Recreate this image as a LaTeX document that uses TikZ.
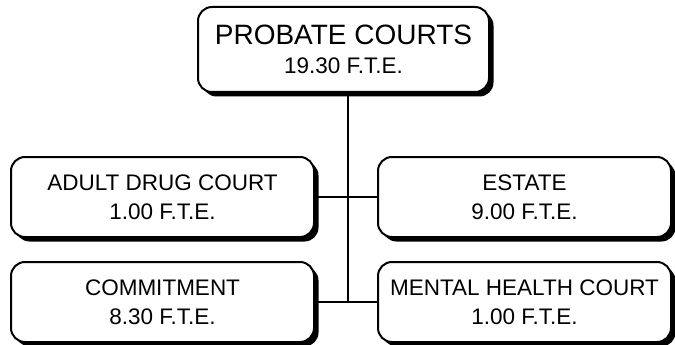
\documentclass[tikz,border=0pt]{standalone}
\usepackage{fontspec}
\setmainfont{Liberation Sans}
\usetikzlibrary{shadows}

\begin{document}
\begin{tikzpicture}[x=1pt,y=-1pt,
  unitbox/.style={draw=black,line width=2pt,fill=white,rounded corners=14pt,
    align=center,inner sep=0pt,
    drop shadow={shadow xshift=4.5pt,shadow yshift=-4.5pt,fill=black,opacity=1},
    font=\fontsize{22.5}{29}\selectfont},
  link/.style={draw=black,line width=2pt}]
\useasboundingbox (0,0) rectangle (675,345);
\draw [link] (348,92) -- (348,302);
\coordinate (trunk) at (348,302);
\node [unitbox,minimum width=291pt,minimum height=85pt] (probate) at (343.5,49.5)
  {{\fontsize{28}{32}\selectfont PROBATE COURTS}\\19.30 F.T.E.};
\node [unitbox,minimum width=303pt,minimum height=80pt] (adult) at (162.5,197)
  {ADULT DRUG COURT\\1.00 F.T.E.};
\node [unitbox,minimum width=303pt,minimum height=80pt] (commit) at (162.5,302)
  {COMMITMENT\\8.30 F.T.E.};
\node [unitbox,minimum width=293pt,minimum height=80pt] (estate) at (524.5,197)
  {ESTATE\\9.00 F.T.E.};
\node [unitbox,minimum width=293pt,minimum height=80pt] (mental) at (524.5,302)
  {MENTAL HEALTH COURT\\1.00 F.T.E.};
\draw [link] (adult.east) -- (estate.west);
\draw [link] (commit.east) -- (mental.west);
\draw [link] (probate.south -| trunk) -- (trunk);
\end{tikzpicture}
\end{document}
